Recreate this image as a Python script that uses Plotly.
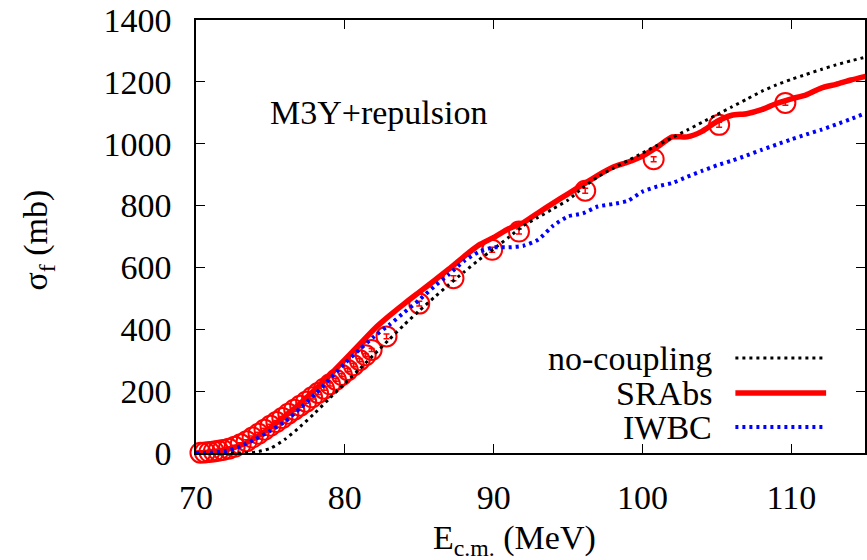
import plotly.graph_objects as go

# ---- data ----
E_model = [70, 71, 72, 73, 74, 75, 76, 77, 78, 79, 80, 81, 82, 83, 84, 85, 86, 87, 88, 89,
           90, 91, 92, 93, 94, 95, 96, 97, 98, 99, 100, 101, 102, 103, 104, 105, 106, 107,
           108, 109, 110, 111, 112, 113, 114, 115]
sig_nocoupling = [0, 0, 0, 0, 3, 15, 45, 85, 130, 178, 225, 272, 320, 368, 415, 460, 503, 545,
                  585, 624, 660, 697, 735, 762, 790, 818, 858, 893, 920, 945, 970, 995, 1020,
                  1044, 1069, 1094, 1119, 1144, 1169, 1190, 1208, 1224, 1240, 1255, 1268, 1280]
sig_srabs = [0, 3, 10, 25, 50, 82, 120, 160, 205, 252, 302, 352, 402, 444, 483, 520, 557, 595,
             635, 672, 697, 725, 745, 777, 808, 838, 868, 898, 924, 940, 960, 990, 1022, 1022,
             1040, 1072, 1092, 1097, 1110, 1130, 1145, 1158, 1180, 1192, 1206, 1218]
sig_iwbc = [0, 1, 6, 22, 45, 72, 102, 145, 190, 240, 290, 335, 378, 415, 455, 495, 538, 578,
            620, 650, 665, 665, 670, 690, 735, 765, 775, 797, 805, 815, 845, 862, 873, 893,
            912, 930, 945, 962, 980, 997, 1014, 1030, 1045, 1062, 1080, 1099]

E_exp = [70.3, 70.6, 70.9, 71.2, 71.5, 71.8, 72.2, 72.6, 73.0, 73.4, 73.8, 74.2, 74.6, 75.0,
         75.4, 75.8, 76.2, 76.6, 77.0, 77.4, 77.8, 78.2, 78.6, 79.0, 79.4, 79.8, 80.2, 80.6,
         81.0, 81.4, 81.8, 82.8, 85.0, 87.3, 89.9, 91.7, 96.15, 100.75, 105.15, 109.6]
sig_exp = [1, 2, 3, 5, 7, 10, 14, 20, 28, 38, 50, 62, 75, 88, 100, 113, 127, 140, 153, 166,
           180, 194, 208, 222, 237, 252, 268, 284, 300, 316, 333, 377, 483, 565, 657, 716,
           848, 950, 1061, 1132]
err_exp = [5] * 31 + [8] * 9

x_ticks = [70, 80, 90, 100, 110]
y_ticks = [0, 200, 400, 600, 800, 1000, 1200, 1400]
legend_names = ["no-coupling", "SRAbs", "IWBC"]

FONT = "Liberation Serif"
FS = 34
W, H = 867, 560
ML, MR, MT, MB = 196, 0, 20, 107
PW = W - ML - MR
PH = H - MT - MB


def px(xp):
    return (xp - ML) / PW


def py(yp):
    return (H - MB - yp) / PH


fig = go.Figure()
fig.add_trace(go.Scatter(x=E_model, y=sig_srabs, mode="lines",
                         line=dict(color="#ff0000", width=5.5, shape="spline", smoothing=0.6),
                         showlegend=False))
fig.add_trace(go.Scatter(x=E_exp, y=sig_exp, mode="markers", cliponaxis=False,
                         marker=dict(symbol="circle-open", size=20, color="#ff0000",
                                     line=dict(width=2, color="#ff0000")),
                         error_y=dict(type="data", array=err_exp, color="#ff0000",
                                      thickness=1.5, width=3),
                         showlegend=False))
fig.add_trace(go.Scatter(x=E_model, y=sig_nocoupling, mode="lines",
                         line=dict(color="#000000", width=3, dash="3px,4px", shape="spline",
                                   smoothing=0.6), showlegend=False))
fig.add_trace(go.Scatter(x=E_model, y=sig_iwbc, mode="lines",
                         line=dict(color="#0000ff", width=4, dash="3px,4px", shape="spline",
                                   smoothing=0.6), showlegend=False))

axis_common = dict(showline=True, linecolor="black", linewidth=1.5, mirror="ticks",
                   ticks="inside", ticklen=9, tickwidth=1.3, tickcolor="black",
                   showgrid=False, zeroline=False,
                   tickfont=dict(family=FONT, size=FS, color="black"))
fig.update_xaxes(range=[70, 114.95], tickvals=x_ticks, ticklabelstandoff=13, **axis_common)
fig.update_yaxes(range=[0, 1400], tickvals=y_ticks, ticklabelstandoff=16, **axis_common)

# manual key (gnuplot style: text left of sample)
key_y = [358, 393, 427]
styles = [dict(color="#000000", width=3, dash="3px,4px"),
          dict(color="#ff0000", width=5.5),
          dict(color="#0000ff", width=4, dash="3px,4px")]
for name, yy, st in zip(legend_names, key_y, styles):
    fig.add_annotation(x=px(716), y=py(yy), xref="paper", yref="paper", text=name,
                       showarrow=False, xanchor="right", yanchor="middle",
                       font=dict(family=FONT, size=FS, color="black"))
    fig.add_shape(type="line", xref="paper", yref="paper", x0=px(737), x1=px(828),
                  y0=py(yy), y1=py(yy), line=st)

fig.add_annotation(x=px(268), y=py(113), xref="paper", yref="paper", text="M3Y+repulsion",
                   showarrow=False, xanchor="left", yanchor="middle",
                   font=dict(family=FONT, size=FS, color="black"))
fig.add_annotation(x=px(515), y=py(540), xref="paper", yref="paper",
                   text="E<sub>c.m.</sub> (MeV)", showarrow=False,
                   xanchor="center", yanchor="middle",
                   font=dict(family=FONT, size=FS, color="black"))
fig.add_annotation(x=px(38), y=py(240), xref="paper", yref="paper",
                   text="σ<sub>f</sub> (mb)", showarrow=False, textangle=-90,
                   xanchor="center", yanchor="middle",
                   font=dict(family=FONT, size=FS, color="black"))

fig.update_layout(width=W, height=H, margin=dict(l=ML, r=MR, t=MT, b=MB),
                  plot_bgcolor="white", paper_bgcolor="white", showlegend=False)

fig.write_html("out.html")
